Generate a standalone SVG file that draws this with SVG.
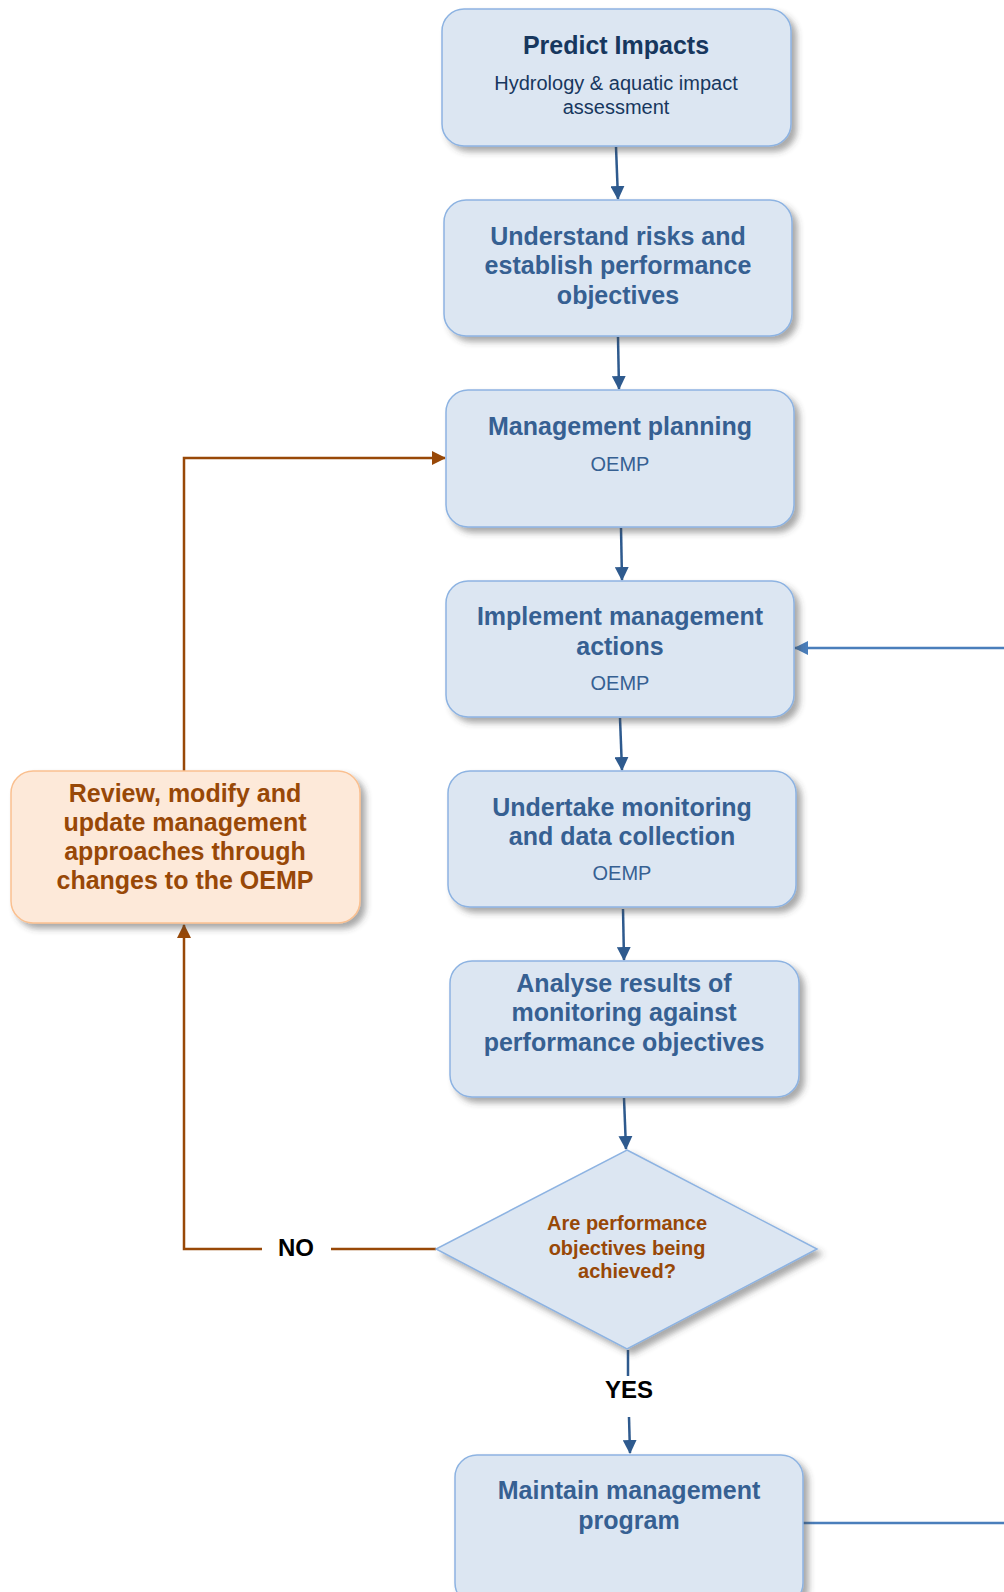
<svg xmlns="http://www.w3.org/2000/svg" width="1004" height="1592" viewBox="0 0 1004 1592">
<defs>
<filter id="sh" x="-10%" y="-10%" width="125%" height="130%">
<feDropShadow dx="5" dy="5" stdDeviation="3" flood-color="#404040" flood-opacity="0.45"/>
</filter>
<marker id="ab" viewBox="0 0 14 14" refX="13" refY="7" markerWidth="14" markerHeight="14" markerUnits="userSpaceOnUse" orient="auto">
<path d="M0,0 L14,7 L0,14 Z" fill="#2E5A8E"/>
</marker>
<marker id="al" viewBox="0 0 14 14" refX="13" refY="7" markerWidth="14" markerHeight="14" markerUnits="userSpaceOnUse" orient="auto">
<path d="M0,0 L14,7 L0,14 Z" fill="#4A7EBB"/>
</marker>
<marker id="ao" viewBox="0 0 14 14" refX="13" refY="7" markerWidth="14" markerHeight="14" markerUnits="userSpaceOnUse" orient="auto">
<path d="M0,0 L14,7 L0,14 Z" fill="#984807"/>
</marker>
</defs>
<style>
.box{fill:#DCE6F2;stroke:#8DB3E2;stroke-width:1.5;filter:url(#sh)}
.rev{fill:#FDE9D9;stroke:#FAC090;stroke-width:1.5;filter:url(#sh)}
.t{font-family:"Liberation Sans",Arial,sans-serif;font-weight:bold;font-size:25px;fill:#366092;text-anchor:middle;dominant-baseline:central}
.t0{fill:#17375E}
.s{font-family:"Liberation Sans",Arial,sans-serif;font-size:20px;fill:#366092;text-anchor:middle;dominant-baseline:central}
.s0{fill:#17375E}
.o{font-family:"Liberation Sans",Arial,sans-serif;font-weight:bold;font-size:25px;fill:#984807;text-anchor:middle;dominant-baseline:central}
.d{font-family:"Liberation Sans",Arial,sans-serif;font-weight:bold;font-size:20px;fill:#984807;text-anchor:middle;dominant-baseline:central}
.k{font-family:"Liberation Sans",Arial,sans-serif;font-weight:bold;font-size:24px;fill:#000;text-anchor:middle;dominant-baseline:central}
.cb{fill:none;stroke:#2E5A8E;stroke-width:2.5;marker-end:url(#ab)}
.cl{fill:none;stroke:#4A7EBB;stroke-width:2.5}
.co{fill:none;stroke:#984807;stroke-width:2.5}
</style>
<g id="connectors">
<line class="cb" x1="616" y1="147" x2="618" y2="199"/>
<line class="cb" x1="618" y1="337" x2="619" y2="389"/>
<line class="cb" x1="621" y1="528" x2="622" y2="580"/>
<line class="cb" x1="620" y1="718" x2="622" y2="770"/>
<line class="cb" x1="623" y1="909" x2="624" y2="960"/>
<line class="cb" x1="624" y1="1098" x2="626" y2="1149"/>
<line fill="none" stroke="#2E5A8E" stroke-width="2.5" x1="628" y1="1350" x2="628" y2="1376"/>
<line class="cb" x1="629" y1="1417" x2="630" y2="1453"/>
<line class="cl" x1="1004" y1="648" x2="795" y2="648" marker-end="url(#al)"/>
<line class="cl" x1="803" y1="1523" x2="1004" y2="1523"/>
<polyline class="co" points="184,771 184,458 445,458" marker-end="url(#ao)"/>
<line class="co" x1="436" y1="1249" x2="331" y2="1249"/>
<polyline class="co" points="262,1249 184,1249 184,925" marker-end="url(#ao)"/>
<text class="k" x="296" y="1247">NO</text>
<text class="k" x="629" y="1389">YES</text>
</g>
<g id="n1">
<rect class="box" x="442" y="9" width="349" height="137" rx="22"/>
<text class="t t0" x="616" y="45">Predict Impacts</text>
<text class="s s0" x="616" y="83">Hydrology &amp; aquatic impact</text>
<text class="s s0" x="616" y="107">assessment</text>
</g>
<g id="n2">
<rect class="box" x="444" y="200" width="348" height="136" rx="22"/>
<text class="t" x="618" y="236">Understand risks and</text>
<text class="t" x="618" y="265">establish performance</text>
<text class="t" x="618" y="295">objectives</text>
</g>
<g id="n3">
<rect class="box" x="446" y="390" width="348" height="137" rx="22"/>
<text class="t" x="620" y="426">Management planning</text>
<text class="s" x="620" y="464">OEMP</text>
</g>
<g id="n4">
<rect class="box" x="446" y="581" width="348" height="136" rx="22"/>
<text class="t" x="620" y="616">Implement management</text>
<text class="t" x="620" y="646">actions</text>
<text class="s" x="620" y="683">OEMP</text>
</g>
<g id="n5">
<rect class="box" x="448" y="771" width="348" height="136" rx="22"/>
<text class="t" x="622" y="807">Undertake monitoring</text>
<text class="t" x="622" y="836">and data collection</text>
<text class="s" x="622" y="873">OEMP</text>
</g>
<g id="n6">
<rect class="box" x="450" y="961" width="349" height="136" rx="22"/>
<text class="t" x="624" y="983">Analyse results of</text>
<text class="t" x="624" y="1012">monitoring against</text>
<text class="t" x="624" y="1042">performance objectives</text>
</g>
<g id="decision">
<polygon points="627,1150 817,1249 627,1349 436,1249" fill="#DCE6F2" stroke="#8DB3E2" stroke-width="1.5" filter="url(#sh)"/>
<text class="d" x="627" y="1223">Are performance</text>
<text class="d" x="627" y="1248">objectives being</text>
<text class="d" x="627" y="1271">achieved?</text>
</g>
<g id="n7">
<rect class="box" x="455" y="1455" width="348" height="150" rx="22"/>
<text class="t" x="629" y="1490">Maintain management</text>
<text class="t" x="629" y="1520">program</text>
</g>
<g id="review">
<rect class="rev" x="11" y="771" width="349" height="152" rx="22"/>
<text class="o" x="185" y="793">Review, modify and</text>
<text class="o" x="185" y="822">update management</text>
<text class="o" x="185" y="851">approaches through</text>
<text class="o" x="185" y="880">changes to the OEMP</text>
</g>
</svg>
